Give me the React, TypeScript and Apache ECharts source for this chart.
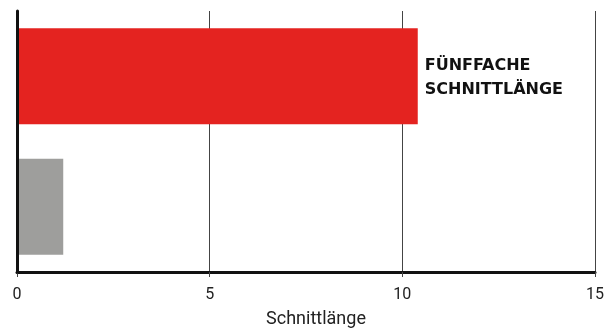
import React, { useEffect, useRef } from "react";
import * as echarts from "echarts";

const categories = ["Fünffache Schnittlänge", "Einfache Schnittlänge"];
const values = [10.4, 1.2];
const barColors = ["#e42320", "#9e9e9c"];
const barLabels = ["FÜNFFACHE\nSCHNITTLÄNGE", ""];
const xTicks = [0, 5, 10, 15];
const axisName = "Schnittlänge";

export default function App() {
  const ref = useRef<HTMLDivElement>(null);
  useEffect(() => {
    if (!ref.current) return;
    const chart = echarts.init(ref.current, undefined, { renderer: "svg" });
    chart.setOption({
      animation: false,
      grid: { left: 17, right: 9, top: 11, bottom: 54, containLabel: false },
      xAxis: {
        type: "value",
        min: xTicks[0],
        max: xTicks[xTicks.length - 1],
        interval: 5,
        name: axisName,
        nameLocation: "middle",
        nameGap: 36,
        nameTextStyle: {
          fontFamily: "Roboto",
          fontSize: 18,
          color: "#222",
          padding: [0, 0, 0, 20],
        },
        axisLine: { show: true, lineStyle: { color: "#111", width: 3 } },
        axisTick: { show: true, length: 5, lineStyle: { color: "#444", width: 1 } },
        axisLabel: { fontFamily: "Roboto", fontSize: 16, color: "#222", margin: 13 },
        splitLine: { show: true, lineStyle: { color: "#444", width: 1 } },
      },
      yAxis: {
        type: "category",
        data: categories,
        inverse: true,
        axisLine: { show: true, lineStyle: { color: "#111", width: 3 } },
        axisTick: { show: false },
        axisLabel: { show: false },
        splitLine: { show: false },
        z: 5,
      },
      series: [
        {
          type: "bar",
          barWidth: 96,
          data: values.map((v, i) => ({
            value: v,
            itemStyle: { color: barColors[i] },
            label: {
              show: barLabels[i] !== "",
              position: "right",
              distance: 7,
              formatter: barLabels[i],
              fontFamily: "DejaVu Sans",
              fontWeight: "bold",
              fontSize: 16,
              lineHeight: 24,
              color: "#111",
            },
          })),
        },
      ],
    });
    return () => chart.dispose();
  }, []);
  return (
    <div
      ref={ref}
      style={{ position: "fixed", left: 0, top: 0, width: 607, height: 331 }}
    />
  );
}
